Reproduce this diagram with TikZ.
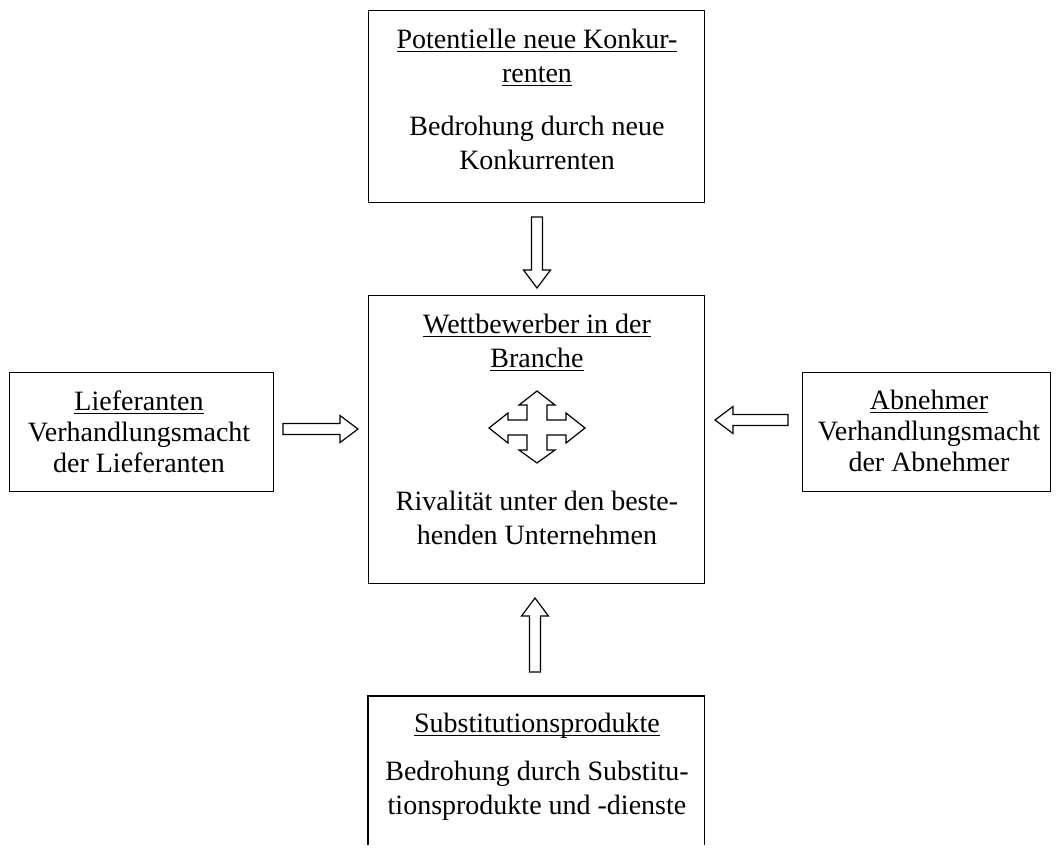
\documentclass[tikz,border=0pt]{standalone}
\usepackage{fontspec}
\setmainfont{Liberation Serif}
\usetikzlibrary{calc}
\newsavebox\ulbox
\newcommand\ulin[1]{\sbox\ulbox{#1}\rlap{\rule[-4pt]{\wd\ulbox}{1.2pt}}\usebox\ulbox}
\newcommand\lines[1]{\begin{tabular}[t]{@{}c@{}}#1\end{tabular}}
\tikzset{
  box/.style={draw, line width=1.2pt, inner sep=0pt, anchor=north west},
  openbox/.style={inner sep=0pt, anchor=north west},
  txt/.style={font=\fontsize{28}{34}\selectfont, anchor=base, inner sep=0pt},
  stxt/.style={font=\fontsize{28}{31}\selectfont, anchor=base, inner sep=0pt},
  blockarrow/.style={draw, line width=1.2pt, line join=miter, fill=white},
  pics/barrow/.style={code={
    \draw[blockarrow] (0,-5.5) -- ({#1-18},-5.5) -- ({#1-18},-13.5) -- (#1,0)
      -- ({#1-18},13.5) -- ({#1-18},5.5) -- (0,5.5) -- cycle;}}
}
\begin{document}
\begin{tikzpicture}[x=1pt,y=-1pt]
\useasboundingbox[fill=white] (0,0) rectangle (1058,855);

% boxes
\node[box, minimum width=336, minimum height=192] (top) at (368,10) {};
\node[box, minimum width=336, minimum height=288] (center) at (368,295) {};
\node[box, minimum width=264, minimum height=119] (left) at (9,372) {};
\node[box, minimum width=248, minimum height=119] (right) at (802,372) {};
\node[openbox, minimum width=336, minimum height=149] (bottom) at (368,696) {};
\draw[line width=1.2pt] (bottom.south west) -- (bottom.north west) -- (bottom.north east) -- (bottom.south east);

% texts
\node[txt] (toptitle) at (537,48) {\lines{\ulin{Potentielle neue Konkur-}\\\ulin{renten}}};
\node[txt] (toptext) at (537,135) {\lines{Bedrohung durch neue\\Konkurrenten}};
\node[txt] (centertitle) at (537,333) {\lines{\ulin{Wettbewerber in der}\\\ulin{Branche}}};
\node[txt] (centertext) at (537,510) {\lines{Rivalität unter den beste-\\henden Unternehmen}};
\node[stxt] (lefttext) at (139,410) {\lines{\ulin{Lieferanten}\\Verhandlungsmacht\\der Lieferanten}};
\node[stxt] (righttext) at (929,409) {\lines{\ulin{Abnehmer}\\Verhandlungsmacht\\der Abnehmer}};
\node[txt] (bottomtitle) at (537,732) {\ulin{Substitutionsprodukte}};
\node[txt] (bottomtext) at (537,780) {\lines{Bedrohung durch Substitu-\\tionsprodukte und -dienste}};

% block arrows
\pic at (283,429) {barrow=75};
\pic[rotate=180] at (788,420) {barrow=73};
\pic[rotate=-90] at (537,217) {barrow=71};
\pic[rotate=90] at (535,672) {barrow=74};

% cross arrow
\coordinate (cross) at (537,427);
\draw[blockarrow] (cross) ++(0,-36) -- ++(18,14) -- ++(-8,0) -- ++(0,15) -- ++(19,0) -- ++(0,-7)
  -- ++(19,15) -- ++(-19,15) -- ++(0,-8) -- ++(-19,0) -- ++(0,15) -- ++(8,0)
  -- ++(-18,13) -- ++(-18,-13) -- ++(8,0) -- ++(0,-15) -- ++(-19,0) -- ++(0,8)
  -- ++(-19,-15) -- ++(19,-15) -- ++(0,7) -- ++(19,0) -- ++(0,-15) -- ++(-8,0) -- cycle;
\end{tikzpicture}
\end{document}
